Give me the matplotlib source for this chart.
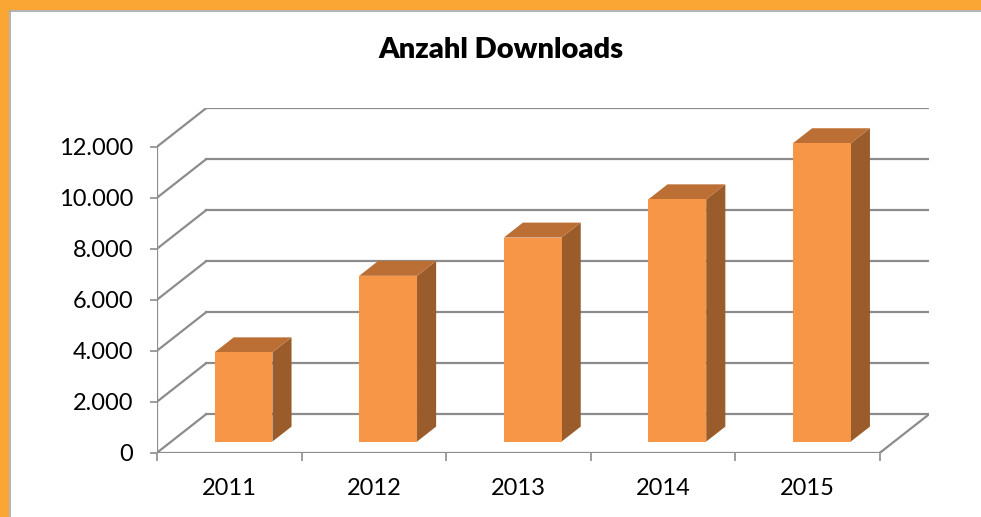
import matplotlib
matplotlib.use("Agg")
import matplotlib.pyplot as plt
from matplotlib.patches import Polygon, Rectangle
from matplotlib.lines import Line2D

# data
years = ["2011", "2012", "2013", "2014", "2015"]
downloads = [3500, 6500, 8000, 9500, 11700]
y_ticks = [0, 2000, 4000, 6000, 8000, 10000, 12000]
y_labels = ["0", "2.000", "4.000", "6.000", "8.000", "10.000", "12.000"]

plt.rcParams["font.family"] = ["Lato", "DejaVu Sans"]

W, H = 981, 517
fig = plt.figure(figsize=(W / 100, H / 100), dpi=100)
fig.patch.set_facecolor("white")

# orange frame (top and left only, picture is cropped)
orange = "#F9A634"
fig.patches.append(Rectangle((0, 1 - 9.5 / H), 1, 9.5 / H, transform=fig.transFigure,
                             facecolor=orange, edgecolor="none", zorder=0))
fig.patches.append(Rectangle((0, 0), 9 / W, 1, transform=fig.transFigure,
                             facecolor=orange, edgecolor="none", zorder=0))
fig.lines.append(Line2D([9.5 / W, 1], [1 - 10.5 / H, 1 - 10.5 / H], transform=fig.transFigure,
                       color="#A6A6A6", lw=1.2))
fig.lines.append(Line2D([9.8 / W, 9.8 / W], [0, 1 - 10.5 / H], transform=fig.transFigure,
                        color="#A6A6A6", lw=1.2))

# 3d-ish geometry, depth offset in data units
n = len(years)
px_cat = 144.6
px_val = 51.0 / 2000
ddx = 49 / px_cat
ddy = 38.4 / px_val

x0_px, y0_px = 157, 452.7
ax_w = (n + ddx) * px_cat
ax_h = (12000 + ddy) * px_val
ax = fig.add_axes([x0_px / W, (H - y0_px) / H, ax_w / W, ax_h / H])
ax.set_xlim(0, n + ddx)
ax.set_ylim(0, 12000 + ddy)
ax.patch.set_alpha(0)
for s in ax.spines.values():
    s.set_visible(False)

grid = "#8C8C8C"
glw = 1.6
for v in y_ticks:
    ax.plot([ddx, n + ddx], [v + ddy, v + ddy], color=grid, lw=glw, zorder=1)
    ax.plot([0, ddx], [v, v + ddy], color=grid, lw=glw, zorder=1)
# front axes lines and floor
ax.plot([0, 0], [0, 12000], color=grid, lw=glw, zorder=1)
ax.plot([0, n], [0, 0], color=grid, lw=glw, zorder=1)
ax.plot([n, n + ddx], [0, ddy], color=grid, lw=glw, zorder=1)

# bars
front_c = "#F79646"
top_c = "#BC6F34"
side_c = "#9A5C2B"
bw = 0.4
d0, d1 = 0.29, 0.68
for i, v in enumerate(downloads):
    xa = i + 0.5 - bw / 2
    xb = i + 0.5 + bw / 2
    fx, fy = d0 * ddx, d0 * ddy
    bx, by = d1 * ddx, d1 * ddy
    side = Polygon([(xb + fx, fy), (xb + bx, by), (xb + bx, v + by), (xb + fx, v + fy)],
                   closed=True, facecolor=side_c, edgecolor="none", zorder=3)
    top = Polygon([(xa + fx, v + fy), (xb + fx, v + fy), (xb + bx, v + by), (xa + bx, v + by)],
                  closed=True, facecolor=top_c, edgecolor="none", zorder=3)
    ax.add_patch(side)
    ax.add_patch(top)
    ax.bar(xa + fx, v, width=bw, bottom=fy, align="edge", color=front_c, zorder=4)

# ticks
ax.set_yticks(y_ticks)
ax.set_yticklabels(y_labels)
ax.tick_params(axis="y", length=5, width=1.2, color=grid, pad=12, labelsize=17)
ax.set_xticks(range(n + 1))
ax.set_xticklabels([])
ax.set_xticks([i + 0.5 for i in range(n)], minor=True)
ax.set_xticklabels(years, minor=True)
ax.tick_params(axis="x", which="major", length=6, width=1.2, color=grid)
ax.tick_params(axis="x", which="minor", length=0, pad=18, labelsize=17)

fig.text(501 / W, 1 - 50 / H, "Anzahl Downloads", ha="center", va="center",
         fontsize=21, fontweight="heavy")

fig.savefig("out.png", dpi=100)
